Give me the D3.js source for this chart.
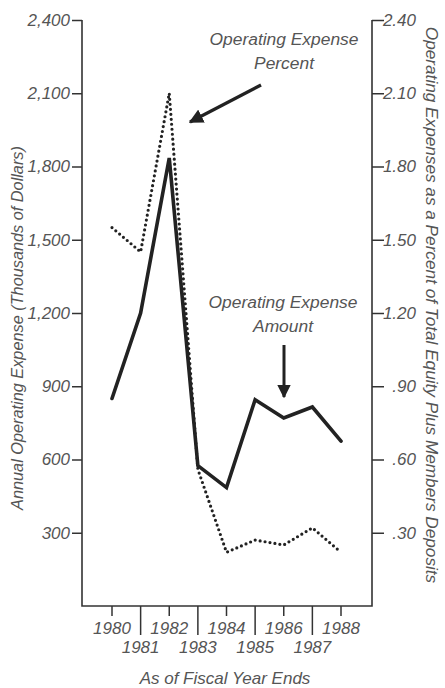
<!DOCTYPE html>
<html>
<head>
<meta charset="utf-8">
<script src="https://cdn.jsdelivr.net/npm/d3@7"></script>
<style>
  body { margin: 0; background: #fff; }
  svg text { font-family: "Liberation Sans", Arial, sans-serif; font-style: italic; fill: #555; }
</style>
</head>
<body>
<svg id="chart" width="445" height="688"></svg>
<script>
// data
const years = [1980, 1981, 1982, 1983, 1984, 1985, 1986, 1987, 1988];
const amount = [850, 1200, 1835, 575, 485, 845, 770, 815, 675];      // thousands of dollars
const percent = [1.55, 1.45, 2.10, 0.56, 0.22, 0.27, 0.25, 0.32, 0.22]; // percent
const leftTicks = [300, 600, 900, 1200, 1500, 1800, 2100, 2400];
const rightTicks = [0.30, 0.60, 0.90, 1.20, 1.50, 1.80, 2.10, 2.40];

const svg = d3.select("#chart");

// plot box
const boxL = 82, boxR = 372, boxT = 20, boxB = 606;

const x = d3.scaleLinear().domain([1980, 1988]).range([112, 341]);
const yL = d3.scaleLinear().domain([0, 2400]).range([boxB, boxT]);
const yR = d3.scaleLinear().domain([0, 2.4]).range([boxB, boxT]);

// axes
const leftAxis = d3.axisLeft(yL).tickValues(leftTicks).tickSize(10).tickPadding(2)
    .tickFormat(d3.format(","));
const rightAxis = d3.axisRight(yR).tickValues(rightTicks).tickSize(12).tickPadding(3)
    .tickFormat(d => d < 1 ? d3.format(".2f")(d).slice(1) : d3.format(".2f")(d));

function styleAxis(g) {
    g.select(".domain").remove();
    g.selectAll("line").attr("stroke", "#333").attr("stroke-width", 1.5);
    g.selectAll("text").attr("font-size", 17).attr("fill", "#555").attr("font-family", null);
}

svg.append("g").attr("transform", `translate(${boxL},0)`).call(leftAxis).call(styleAxis);
svg.append("g").attr("transform", `translate(${boxR},0)`).call(rightAxis).call(styleAxis)
    .selectAll("text").attr("text-anchor", "end").attr("x", 44);

// frame: left, bottom, right
svg.append("path")
    .attr("d", `M${boxL},${boxT}V${boxB}H${boxR}V${boxT}`)
    .attr("fill", "none").attr("stroke", "#333").attr("stroke-width", 1.6);

// x ticks: even years short, odd years long
const xt = svg.append("g");
xt.selectAll("line").data(years).join("line")
    .attr("x1", d => x(d)).attr("x2", d => x(d))
    .attr("y1", boxB).attr("y2", d => d % 2 ? boxB + 29 : boxB + 10)
    .attr("stroke", "#333").attr("stroke-width", 1.5);
xt.selectAll("text").data(years).join("text")
    .attr("x", d => x(d)).attr("y", d => d % 2 ? 653 : 634)
    .attr("text-anchor", "middle").attr("font-size", 17)
    .text(d => d);

svg.append("text").attr("x", 225).attr("y", 684).attr("text-anchor", "middle")
    .attr("font-size", 17).text("As of Fiscal Year Ends");

svg.append("text").attr("transform", "translate(23,328) rotate(-90)")
    .attr("text-anchor", "middle").attr("font-size", 16.3)
    .text("Annual Operating Expense (Thousands of Dollars)");

svg.append("text").attr("transform", "translate(426,305) rotate(90)")
    .attr("text-anchor", "middle").attr("font-size", 17.2)
    .text("Operating Expenses as a Percent of Total Equity Plus Members Deposits");

// lines
const lineL = d3.line().x((d, i) => x(years[i])).y(d => yL(d));
const lineR = d3.line().x((d, i) => x(years[i])).y(d => yR(d));

svg.append("path").datum(percent).attr("d", lineR)
    .attr("fill", "none").attr("stroke", "#222").attr("stroke-width", 3.2)
    .attr("stroke-linecap", "round").attr("stroke-dasharray", "0 5");

svg.append("path").datum(amount).attr("d", lineL)
    .attr("fill", "none").attr("stroke", "#222").attr("stroke-width", 3.6)
    .attr("stroke-linejoin", "miter").attr("stroke-linecap", "round");

// annotations
svg.append("defs").append("marker")
    .attr("id", "head").attr("viewBox", "0 0 10 10").attr("refX", 9).attr("refY", 5)
    .attr("markerWidth", 4.5).attr("markerHeight", 4.5).attr("orient", "auto")
    .append("path").attr("d", "M0,0L10,5L0,10Z").attr("fill", "#222");

function note(cx, y0, lines) {
    svg.append("text").attr("text-anchor", "middle").attr("font-size", 17.4)
        .selectAll("tspan").data(lines).join("tspan")
        .attr("x", cx).attr("y", (d, i) => y0 + i * 24).text(d => d);
}
note(284, 45, ["Operating Expense", "Percent"]);
note(283, 308, ["Operating Expense", "Amount"]);

svg.append("line").attr("x1", 261).attr("y1", 85).attr("x2", 190).attr("y2", 122)
    .attr("stroke", "#222").attr("stroke-width", 3.2).attr("marker-end", "url(#head)");
svg.append("line").attr("x1", 284).attr("y1", 345).attr("x2", 284).attr("y2", 397)
    .attr("stroke", "#222").attr("stroke-width", 3).attr("marker-end", "url(#head)");
</script>
</body>
</html>
